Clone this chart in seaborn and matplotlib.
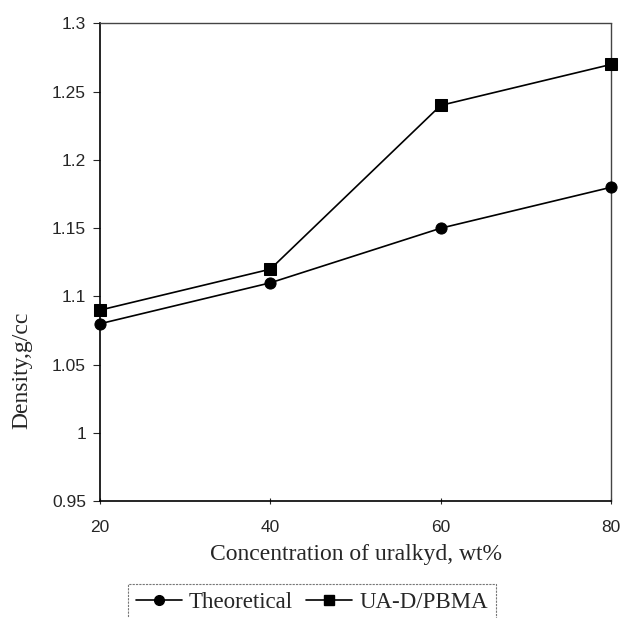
import matplotlib
matplotlib.use("Agg")
import matplotlib.pyplot as plt
import pandas as pd
import seaborn as sns

# Data
concentration = [20, 40, 60, 80]
theoretical = [1.08, 1.11, 1.15, 1.18]
ua_d_pbma = [1.09, 1.12, 1.24, 1.27]
y_ticks = [0.95, 1.0, 1.05, 1.1, 1.15, 1.2, 1.25, 1.3]

df = pd.DataFrame(
    {
        "conc": concentration * 2,
        "density": theoretical + ua_d_pbma,
        "series": ["Theoretical"] * 4 + ["UA-D/PBMA"] * 4,
    }
)

sns.set_style("white")
plt.rcParams["font.family"] = ["Liberation Sans", "DejaVu Sans"]

fig = plt.figure(figsize=(6.21, 6.18), dpi=100)
ax = fig.add_axes([0.161, 0.189, 0.823, 0.773])

sns.lineplot(
    data=df,
    x="conc",
    y="density",
    hue="series",
    style="series",
    palette=["black", "black"],
    markers={"Theoretical": "o", "UA-D/PBMA": "s"},
    dashes=False,
    markersize=8,
    linewidth=1.2,
    markeredgecolor="black",
    legend=False,
    ax=ax,
)
for line in ax.lines:
    line.set_clip_on(False)
    line.set_zorder(5)

ax.set_xlim(20, 80)
ax.set_ylim(0.95, 1.3)
ax.set_xticks([20, 40, 60, 80])
ax.set_yticks(y_ticks)
ax.set_yticklabels([f"{v:g}" for v in y_ticks])
ax.tick_params(axis="y", direction="out", length=5, width=0.8, pad=5, labelsize=12.5, left=True)
ax.tick_params(axis="x", direction="inout", length=5, width=0.8, pad=11, labelsize=12.5, bottom=True)

for side in ["left", "bottom"]:
    ax.spines[side].set_color("black")
    ax.spines[side].set_linewidth(1.2)
for side in ["top", "right"]:
    ax.spines[side].set_color("#444444")
    ax.spines[side].set_linewidth(1.0)
    ax.spines[side].set_linestyle((0, (2, 1)))

serif = ["Liberation Serif", "DejaVu Serif"]
ax.set_xlabel("Concentration of uralkyd, wt%", fontsize=17, family=serif)
ax.set_ylabel("Density,g/cc", fontsize=17, family=serif)
ax.xaxis.set_label_coords(0.5, -0.09)
ax.yaxis.set_label_coords(-0.132, 0.274)

h1, = ax.plot([], [], color="black", marker="o", markersize=7, lw=1.2)
h2, = ax.plot([], [], color="black", marker="s", markersize=7, lw=1.2)
leg = fig.legend(
    [h1, h2],
    ["Theoretical", "UA-D/PBMA"],
    loc="upper center",
    bbox_to_anchor=(0.502, 0.074),
    ncol=2,
    frameon=True,
    fancybox=False,
    prop={"family": serif, "size": 16.5},
    handlelength=2.0,
    handletextpad=0.3,
    columnspacing=0.6,
    borderpad=0.35,
)
leg.get_frame().set_edgecolor("#555555")
leg.get_frame().set_linestyle((0, (2, 1)))
leg.get_frame().set_linewidth(0.8)

fig.savefig("out.png", dpi=100)
